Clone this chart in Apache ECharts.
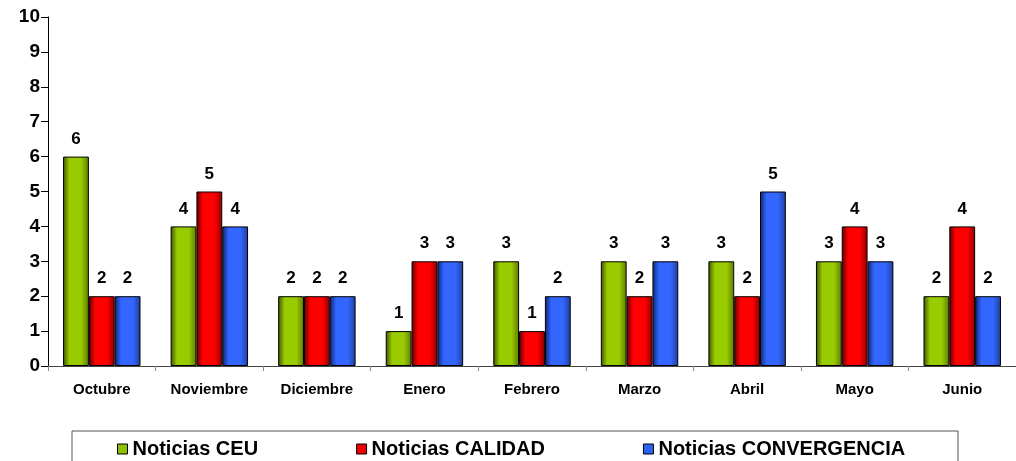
<!DOCTYPE html>
<html>
<head>
<meta charset="utf-8">
<script src="https://cdn.jsdelivr.net/npm/echarts@6/dist/echarts.min.js"></script>
<style>
  html, body { margin: 0; padding: 0; background: #fff; }
  #chart { width: 1016px; height: 461px; }
</style>
</head>
<body>
<div id="chart"></div>
<script>
var months = ['Octubre', 'Noviembre', 'Diciembre', 'Enero', 'Febrero', 'Marzo', 'Abril', 'Mayo', 'Junio'];
var ceu = [6, 4, 2, 1, 3, 3, 3, 3, 2];
var calidad = [2, 5, 2, 3, 1, 2, 2, 4, 4];
var convergencia = [2, 4, 2, 3, 2, 3, 5, 3, 2];
var seriesNames = ['Noticias CEU', 'Noticias CALIDAD', 'Noticias CONVERGENCIA'];

var FONT = '"Liberation Sans", Arial, sans-serif';

// degradado horizontal tipo Excel: borde oscuro, centro brillante
function barFill(dark, bright, mid) {
    return new echarts.graphic.LinearGradient(0, 0, 1, 0, [
        { offset: 0, color: dark },
        { offset: 0.25, color: bright },
        { offset: 0.7, color: bright },
        { offset: 1, color: mid }
    ]);
}

function makeSeries(name, data, fill) {
    return {
        name: name,
        type: 'bar',
        data: data,
        barGap: 0,
        barCategoryGap: '28%',
        itemStyle: { color: fill, borderColor: '#000', borderWidth: 1 },
        label: {
            show: true,
            position: 'top',
            distance: 9,
            color: '#000',
            fontFamily: FONT,
            fontWeight: 'bold',
            fontSize: 17
        }
    };
}

var chart = echarts.init(document.getElementById('chart'));
chart.setOption({
    animation: false,
    grid: { left: 48, right: -4, top: 17, bottom: 95 },
    graphic: [{
        type: 'rect',
        shape: { x: 72, y: 431, width: 886, height: 40 },
        style: { fill: '#fff', stroke: '#555', lineWidth: 1 },
        z: -1
    }],
    legend: {
        left: 112,
        top: 434,
        itemWidth: 10,
        itemHeight: 10,
        itemGap: 98,
        icon: 'rect',
        textStyle: { color: '#000', fontFamily: FONT, fontWeight: 'bold', fontSize: 20 },
        data: [
            { name: seriesNames[0], itemStyle: { color: '#8cbf00', borderColor: '#000', borderWidth: 1 } },
            { name: seriesNames[1], itemStyle: { color: '#ee0000', borderColor: '#000', borderWidth: 1 } },
            { name: seriesNames[2], itemStyle: { color: '#2f62f0', borderColor: '#000', borderWidth: 1 } }
        ]
    },
    xAxis: {
        type: 'category',
        data: months,
        axisLine: { lineStyle: { color: '#444', width: 1 } },
        axisTick: { show: true, length: 5, lineStyle: { color: '#888' } },
        axisLabel: { color: '#000', fontFamily: FONT, fontWeight: 'bold', fontSize: 15, margin: 16 }
    },
    yAxis: {
        type: 'value',
        min: 0,
        max: 10,
        interval: 1,
        splitLine: { show: false },
        axisLine: { show: true, lineStyle: { color: '#000', width: 1 } },
        axisTick: { show: true, length: 7, lineStyle: { color: '#000' } },
        axisLabel: { color: '#000', fontFamily: FONT, fontWeight: 'bold', fontSize: 19, margin: 8 }
    },
    series: [
        makeSeries(seriesNames[0], ceu, barFill('#3f5200', '#99cc00', '#5f7a00')),
        makeSeries(seriesNames[1], calidad, barFill('#600000', '#ff0000', '#900000')),
        makeSeries(seriesNames[2], convergencia, barFill('#0c2470', '#3366ff', '#1f3f9a'))
    ]
});
</script>
</body>
</html>
